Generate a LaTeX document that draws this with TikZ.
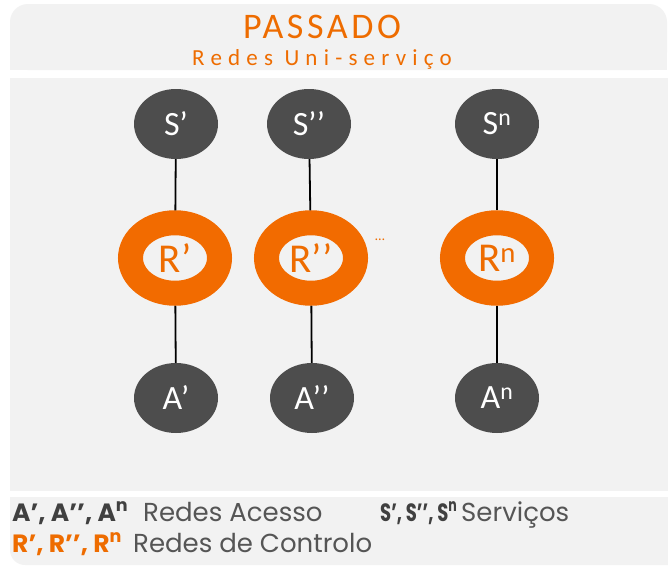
\documentclass[tikz,border=0pt]{standalone}
\usepackage{fontspec}
\setmainfont{Carlito}
\newfontfamily\titlefont[LetterSpace=10]{Carlito}
\newfontfamily\subtitlefont[LetterSpace=27]{Carlito}
\newfontfamily\legfont{Poppins}
\usetikzlibrary{shapes.geometric}
\definecolor{panel}{HTML}{F2F2F2}
\definecolor{org}{HTML}{F26B00}
\definecolor{orgtxt}{HTML}{EE6C00}
\definecolor{nodegray}{HTML}{4D4D4D}
\definecolor{legdark}{HTML}{404040}
\definecolor{leggray}{HTML}{555555}
\tikzset{
  x=1pt, y=-1pt,
  pnl/.style={fill=panel, draw=none},
  endnode/.style={ellipse, fill=nodegray, draw=none, minimum width=84pt, minimum height=70pt, inner sep=0pt, text=white, font=\fontsize{34}{36}\selectfont},
  ring/.style={ellipse, draw=org, line width=25pt, minimum width=89pt, minimum height=70.5pt, inner sep=0pt, text=orgtxt, font=\fontsize{41}{44}\selectfont},
  edge/.style={draw=black, line width=1.8pt},
  legb/.style={anchor=base west, inner sep=0pt, font=\legfont\bfseries\fontsize{25}{28}\selectfont},
  legt/.style={anchor=base west, inner sep=0pt, text=leggray, font=\legfont\fontsize{26}{28}\selectfont},
}
\begin{document}
\begin{tikzpicture}
\useasboundingbox (0,0) rectangle (668,565);
\fill[white] (0,0) rectangle (668,565);
% panels
\path[pnl, rounded corners=18pt] (10,4) rectangle (667,70);
\path[pnl] (10,40) rectangle (667,70);
\path[pnl] (10,78) rectangle (668,491);
\path[pnl, rounded corners=15pt] (10,497) rectangle (690,565);
\path[pnl] (30,497) rectangle (668,565);
\path[pnl] (10,497) rectangle (40,530);
% title
\node[anchor=base, inner sep=0pt, text=orgtxt, font=\titlefont\fontsize{36}{40}\selectfont] (title) at (322,38) {PASSADO};
\node[anchor=base, inner sep=0pt, text=orgtxt, font=\subtitlefont\fontsize{23}{26}\selectfont] (subtitle) at (322,65) {Redes Uni-serviço};
% nodes
\node[endnode] (S1) at (176,124) {S’};
\node[endnode] (S2) at (309,124) {S’’};
\node[endnode] (S3) at (497,124) {S\textsuperscript{n}};
\node[ring] (R1) at (175,258) {R’};
\node[ring] (R2) at (311,258) {R’’};
\node[ring] (R3) at (497,258) {R\textsuperscript{n}};
\node[endnode] (A1) at (176,398) {A’};
\node[endnode] (A2) at (312,398) {A’’};
\node[endnode] (A3) at (497,398) {A\textsuperscript{n}};
\node[text=orgtxt, inner sep=0pt, font=\fontsize{14}{14}\selectfont] (dots) at (380,240) {…};
% edges
\draw[edge] (S1) -- (R1);
\draw[edge] (R1) -- (A1);
\draw[edge] (S2) -- (R2);
\draw[edge] (R2) -- (A2);
\draw[edge] (S3) -- (R3);
\draw[edge] (R3) -- (A3);
% legend
\node[legb, text=legdark] (legA) at (12,521) {A’, A’’, A\textsuperscript{n}};
\node[legt] (legAt) at (143,521) {Redes Acesso};
\node[legb, text=legdark] (legS) at (380,521) {\scalebox{0.72}[1]{S’, S’’, S\textsuperscript{n}}};
\node[legt] (legSt) at (461,521) {Serviços};
\node[legb, text=orgtxt] (legR) at (12,552) {R’, R’’, R\textsuperscript{n}};
\node[legt] (legRt) at (133,552) {Redes de Controlo};
\end{tikzpicture}
\end{document}
